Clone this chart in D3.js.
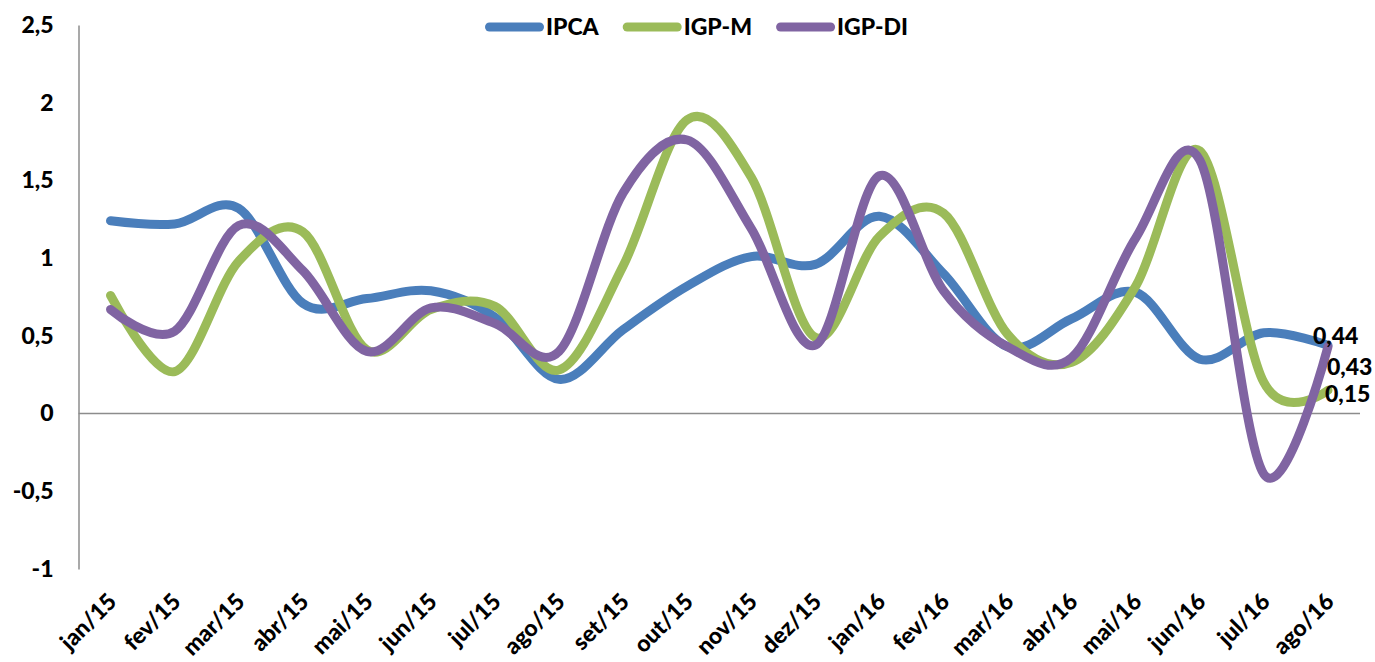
<!DOCTYPE html>
<style>
  body { margin: 0; background: #fff; }
  text { font-family: Lato, "Open Sans", sans-serif; font-weight: 900; fill: #000; }
</style>
<body></body>
<script src="https://cdn.jsdelivr.net/npm/d3@7"></script>
<script>
  const width = 1375
  const height = 662
  const plot = { left: 78.5, right: 1360, top: 25, bottom: 569 }

  const months = ["jan/15", "fev/15", "mar/15", "abr/15", "mai/15", "jun/15", "jul/15", "ago/15",
    "set/15", "out/15", "nov/15", "dez/15", "jan/16", "fev/16", "mar/16", "abr/16",
    "mai/16", "jun/16", "jul/16", "ago/16"]

  const ipca = [1.24, 1.22, 1.32, 0.71, 0.74, 0.79, 0.62, 0.22, 0.54, 0.82, 1.01, 0.96,
    1.27, 0.90, 0.43, 0.61, 0.78, 0.35, 0.52, 0.44]
  const igpm = [0.76, 0.27, 0.98, 1.17, 0.41, 0.67, 0.69, 0.28, 0.95, 1.89, 1.52, 0.49,
    1.14, 1.29, 0.51, 0.33, 0.82, 1.69, 0.20, 0.15]
  const igpdi = [0.67, 0.53, 1.21, 0.92, 0.40, 0.68, 0.58, 0.40, 1.42, 1.76, 1.19, 0.44,
    1.53, 0.79, 0.43, 0.36, 1.13, 1.63, -0.39, 0.43]

  const yTicks = [-1, -0.5, 0, 0.5, 1, 1.5, 2, 2.5]

  // last-point labels: offsets relative to the point
  const series = [
    { name: "IPCA", values: ipca, color: "#4a7ebb", label: { dx: -15, dy: -9 } },
    { name: "IGP-M", values: igpm, color: "#9bbb59", label: { dx: -3, dy: 4 } },
    { name: "IGP-DI", values: igpdi, color: "#8064a2", label: { dx: -1, dy: 20 } }
  ]

  const br = d3.formatLocale({ decimal: ",", thousands: ".", grouping: [3], currency: ["R$", ""], minus: "-" })
  const fmtTick = br.format("~g")
  const fmtLabel = br.format(".2f")

  const x = d3.scalePoint()
    .domain(months)
    .range([plot.left, plot.right])
    .padding(0.5)

  const y = d3.scaleLinear()
    .domain([-1, 2.5])
    .range([plot.bottom, plot.top])

  const svg = d3.select("body").append("svg")
    .attr("width", width)
    .attr("height", height)

  // zero line
  svg.append("line")
    .attr("x1", plot.left).attr("x2", plot.right)
    .attr("y1", y(0)).attr("y2", y(0))
    .attr("stroke", "#8c8c8c")
    .attr("stroke-width", 1.5)

  // y axis
  const yAxis = svg.append("g")
    .attr("transform", `translate(${plot.left}, 0)`)
    .call(d3.axisLeft(y).tickValues(yTicks).tickFormat(fmtTick).tickSize(0).tickPadding(25))
  yAxis.select(".domain").attr("stroke", "#8c8c8c").attr("stroke-width", 1.5)
  yAxis.selectAll("text")
    .style("font-size", "23px")
    .attr("fill", "#000")

  // x axis labels
  const xAxis = svg.append("g")
    .attr("transform", `translate(0, ${plot.bottom})`)
    .call(d3.axisBottom(x).tickSize(0))
  xAxis.select(".domain").remove()
  xAxis.selectAll("text")
    .style("font-size", "23px")
    .attr("fill", "#000")
    .attr("text-anchor", "end")
    .attr("y", 0)
    .attr("dy", 0)
    .attr("transform", "translate(7, 34) rotate(-45)")

  const line = d3.line()
    .x((d, i) => x(months[i]))
    .y(d => y(d))
    .curve(d3.curveCardinal.tension(0))

  svg.append("g")
    .selectAll("path")
    .data(series)
    .join("path")
    .attr("d", d => line(d.values))
    .attr("fill", "none")
    .attr("stroke", d => d.color)
    .attr("stroke-width", 9)
    .attr("stroke-linecap", "round")
    .attr("stroke-linejoin", "round")

  // value labels on the last month
  const last = months.length - 1
  svg.append("g")
    .selectAll("text")
    .data(series)
    .join("text")
    .attr("x", d => x(months[last]) + d.label.dx)
    .attr("y", d => y(d.values[last]) + d.label.dy)
    .attr("dy", "0.35em")
    .style("font-size", "23px")
    .text(d => fmtLabel(d.values[last]))

  // legend
  const legend = svg.append("g")
  let lx = 485
  series.forEach(s => {
    legend.append("line")
      .attr("x1", lx + 4.5).attr("x2", lx + 54.5)
      .attr("y1", 27).attr("y2", 27)
      .attr("stroke", s.color)
      .attr("stroke-width", 9)
      .attr("stroke-linecap", "round")
    const t = legend.append("text")
      .attr("x", lx + 61)
      .attr("y", 27)
      .attr("dy", "0.35em")
      .style("font-size", "23px")
      .text(s.name)
    lx = lx + 61 + t.node().getComputedTextLength() + 24
  })
</script>
